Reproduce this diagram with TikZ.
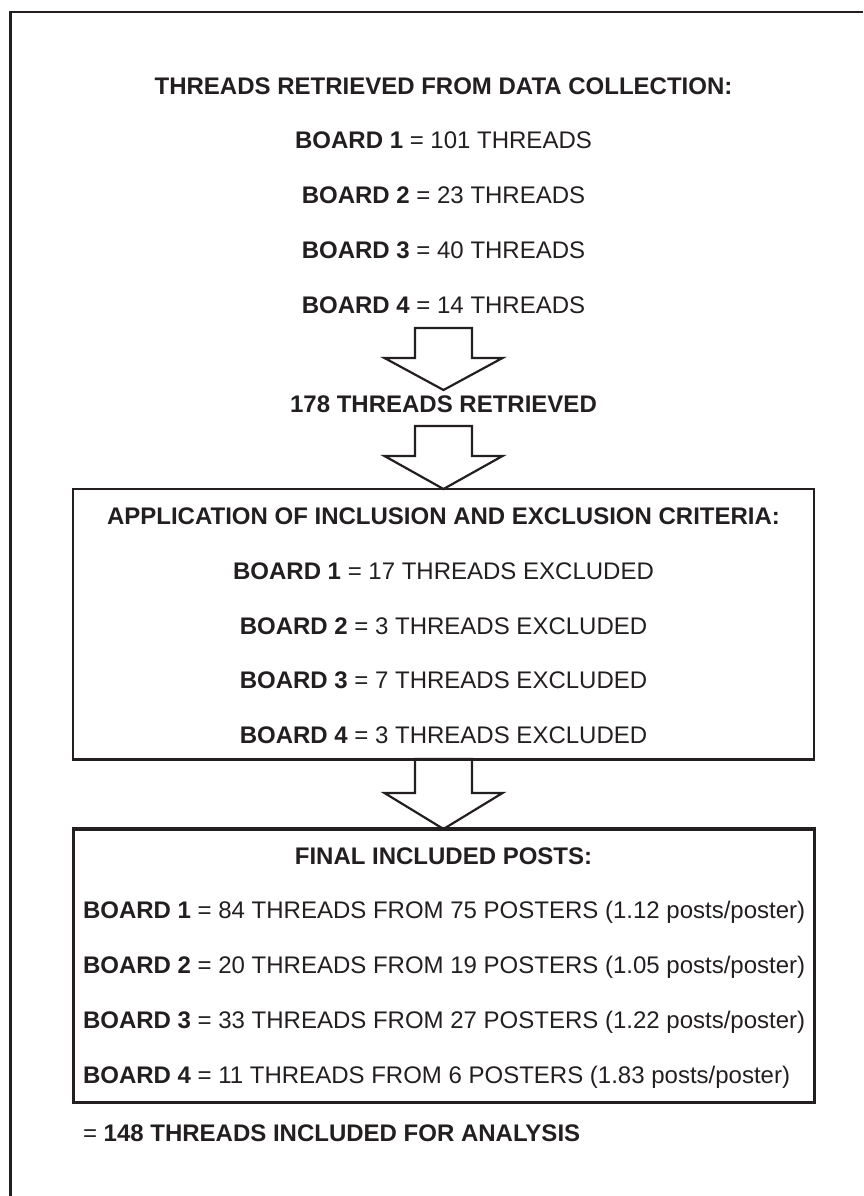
\documentclass[tikz,border=0pt]{standalone}
\usepackage{fontspec}
\setmainfont{Liberation Sans}
\definecolor{ink}{HTML}{231F20}
\newcommand{\blkarrow}[4]{% x, top, shoulder, tip
  \draw[arrowshape] (#1-28.5,#2) -- (#1-28.5,#3) -- (#1-59,#3) -- (#1,#4) -- (#1+59,#3) -- (#1+28.5,#3) -- (#1+28.5,#2) -- cycle;}
\begin{document}
\begin{tikzpicture}[x=1pt,y=-1pt,
  txt/.style={inner sep=0pt, outer sep=0pt, text=ink, font=\fontsize{24}{28}\selectfont, anchor=base},
  ltxt/.style={txt, anchor=base west},
  frame/.style={draw=ink, line width=2.4pt},
  boxstyle/.style={draw=ink, line width=2.4pt, inner sep=0pt, minimum width=741pt},
  arrowshape/.style={draw=ink, line width=2.2pt, line join=miter, fill=white}]
\useasboundingbox (0,0) rectangle (863,1196);
% outer frame (cropped: top and left only)
\draw[frame] (863,12) -- (10.5,12) -- (10.5,1196);
% section 1
\node[txt] (t1) at (443.5,95) {\bfseries THREADS RETRIEVED FROM DATA COLLECTION:};
\node[txt] (a1) at (443.5,148) {\bfseries BOARD 1\mdseries{} = 101 THREADS};
\node[txt] (a2) at (443.5,203) {\bfseries BOARD 2\mdseries{} = 23 THREADS};
\node[txt] (a3) at (443.5,258) {\bfseries BOARD 3\mdseries{} = 40 THREADS};
\node[txt] (a4) at (443.5,313) {\bfseries BOARD 4\mdseries{} = 14 THREADS};
\blkarrow{443.5}{328}{358}{390}
\node[txt] (r) at (443.5,412) {\bfseries 178 THREADS RETRIEVED};
% box 1
\node[boxstyle, minimum height=270pt] (box1) at (443.5,624) {};
\blkarrow{443.5}{426}{456}{489}
\node[txt] (t2) at (443.5,524) {\bfseries APPLICATION OF INCLUSION AND EXCLUSION CRITERIA:};
\node[txt] (b1) at (443.5,579) {\bfseries BOARD 1\mdseries{} = 17 THREADS EXCLUDED};
\node[txt] (b2) at (443.5,634) {\bfseries BOARD 2\mdseries{} = 3 THREADS EXCLUDED};
\node[txt] (b3) at (443.5,688) {\bfseries BOARD 3\mdseries{} = 7 THREADS EXCLUDED};
\node[txt] (b4) at (443.5,743) {\bfseries BOARD 4\mdseries{} = 3 THREADS EXCLUDED};
% box 2
\node[boxstyle, minimum height=273pt] (box2) at (444,966) {};
\blkarrow{443.5}{759}{793}{829}
\draw[draw=ink, line width=2.4pt] (box1.south west) -- (box1.south east);
\draw[draw=ink, line width=2.4pt] (box2.north west) -- (box2.north east);
\node[txt] (t3) at (443.5,864) {\bfseries FINAL INCLUDED POSTS:};
\node[ltxt] (c1) at (83,918) {\bfseries BOARD 1\mdseries{} = 84 THREADS FROM 75 POSTERS (1.12 posts/poster)};
\node[ltxt] (c2) at (83,973) {\bfseries BOARD 2\mdseries{} = 20 THREADS FROM 19 POSTERS (1.05 posts/poster)};
\node[ltxt] (c3) at (83,1028) {\bfseries BOARD 3\mdseries{} = 33 THREADS FROM 27 POSTERS (1.22 posts/poster)};
\node[ltxt] (c4) at (83,1083) {\bfseries BOARD 4\mdseries{} = 11 THREADS FROM 6 POSTERS (1.83 posts/poster)};
\node[ltxt] (f) at (83,1141) {= \bfseries 148 THREADS INCLUDED FOR ANALYSIS};
\end{tikzpicture}
\end{document}
